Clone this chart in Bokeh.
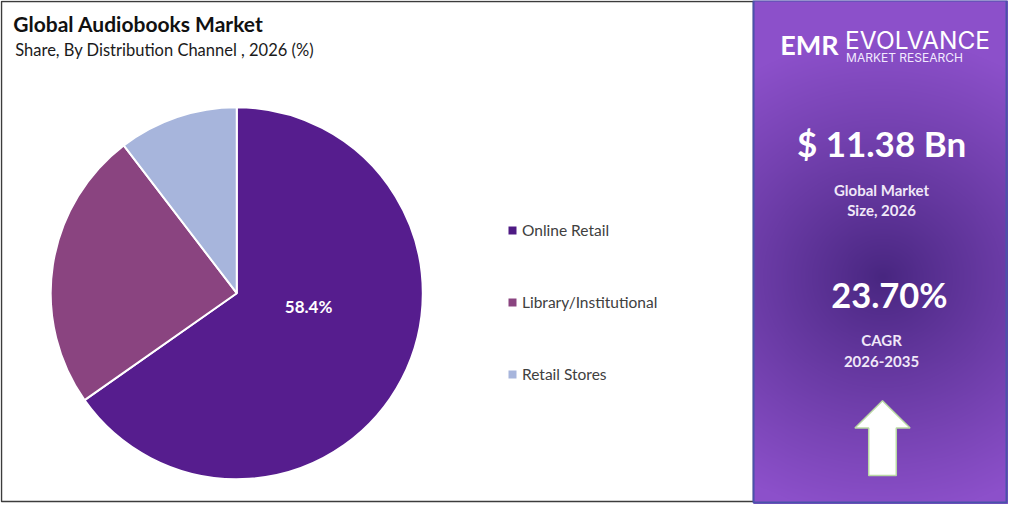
import numpy as np
from bokeh.plotting import figure
from bokeh.models import Range1d, ColumnDataSource, Legend, LegendItem
from bokeh.core.properties import value
from bokeh.embed import file_html
from bokeh.resources import INLINE

# ---- data ----
categories = ["Online Retail", "Library/Institutional", "Retail Stores"]
shares = [58.4, 21.8, 9.3]
colors = ["#561d8e", "#8a4480", "#a7b5dc"]
legend_colors = ["#4e1a84", "#8a4480", "#a7b5dc"]
title = "Global  Audiobooks Market"
subtitle = "Share, By Distribution Channel  , 2026 (%)"
market_size = "$ 11.38 Bn"
market_label = ["Global Market", "Size, 2026"]
cagr = "23.70%"
cagr_label = ["CAGR", "2026-2035"]

W, H = 1024, 520
def Y(y):
    return H - y

p = figure(width=1008, height=504, x_range=Range1d(0, W), y_range=Range1d(0, H),
           output_backend="svg", toolbar_location=None, min_border=0,
           background_fill_color="white", border_fill_color="white")
p.axis.visible = False
p.grid.visible = False
p.outline_line_color = None

FONT = "Lato"

# left panel border
p.quad(left=1, right=765, bottom=Y(517), top=Y(1), fill_color="white",
       line_color="#3c3c3c", line_width=1.5)

# right panel gradient
pw, ph = 259, 520
xs = np.arange(pw) + 765
gx, gy = np.meshgrid(xs, np.arange(ph))
t = np.sqrt(((gx - 895) / 260.0) ** 2 + ((gy - 285) / 245.0) ** 2)
t = np.clip(t, 0, 1) ** 0.9
dark = np.array([72, 38, 128], dtype=float)
light = np.array([140, 80, 202], dtype=float)
rgb = dark[None, None, :] + (light - dark)[None, None, :] * t[:, :, None]
img = np.zeros((ph, pw), dtype=np.uint32)
view = img.view(dtype=np.uint8).reshape((ph, pw, 4))
view[:, :, 0] = rgb[:, :, 0].astype(np.uint8)
view[:, :, 1] = rgb[:, :, 1].astype(np.uint8)
view[:, :, 2] = rgb[:, :, 2].astype(np.uint8)
view[:, :, 3] = 255
img = img[::-1]  # flip so that row 0 is bottom
p.image_rgba(image=[img], x=765, y=0, dw=pw, dh=ph)
p.quad(left=765, right=1022, bottom=Y(518), top=Y(0), fill_color=None,
       line_color="#4a52aa", line_width=2)

# title
p.text(x=[13], y=[Y(24)], text=[title], text_font=value(FONT), text_font_style="bold",
       text_font_size="21px", text_color="#111111", text_baseline="middle")
p.text(x=[15], y=[Y(51)], text=[subtitle], text_font=value(FONT),
       text_font_size="16.5px", text_color="#1a1a1a", text_baseline="middle")

# pie
vals = np.array(shares)
frac = vals / vals.sum()
cum = np.concatenate([[0], np.cumsum(frac)])
start = np.pi / 2 - cum[1:] * 2 * np.pi
end = np.pi / 2 - cum[:-1] * 2 * np.pi
src = ColumnDataSource(dict(cat=categories, start=start, end=end, color=colors))
p.wedge(x=240, y=Y(302), radius=189, start_angle="start", end_angle="end",
        fill_color="color", line_color="white", line_width=2, source=src)

# legend (square swatches)
lsrc = ColumnDataSource(dict(l=[-50] * 3, r=[-40] * 3, b=[-50] * 3, t=[-40] * 3,
                             c=legend_colors))
lr = p.quad(left="l", right="r", bottom="b", top="t", fill_color="c",
            line_color=None, source=lsrc)
items = [LegendItem(label=c, renderers=[lr], index=i) for i, c in enumerate(categories)]
leg = Legend(items=items, location=(507, 121), orientation="vertical",
             spacing=54, padding=0, margin=0, glyph_width=10, glyph_height=10,
             label_standoff=5, label_text_font=FONT, label_text_font_size="15.5px",
             label_text_color="#404040", border_line_color=None,
             background_fill_alpha=0)
p.add_layout(leg)

# data label
p.text(x=[313], y=[Y(316)], text=[f"{shares[0]}%"], text_font=value(FONT),
       text_font_style="bold", text_font_size="17px", text_color="white",
       text_align="center", text_baseline="middle")

# logo
p.text(x=[792], y=[Y(45)], text=["EMR"], text_font=value(FONT), text_font_style="bold",
       text_font_size="27px", text_color="white", text_baseline="middle")
p.text(x=[858], y=[Y(41)], text=["EVOLVANCE"], text_font=value("Inter"),
       text_font_size="24.5px", text_color="white", text_baseline="middle")
p.text(x=[859], y=[Y(59)], text=["MARKET RESEARCH"], text_font=value("Inter"),
       text_font_size="12px", text_color="#f2eaff", text_baseline="middle")

# KPI texts
p.text(x=[895], y=[Y(147)], text=[market_size], text_font=value(FONT), text_font_style="bold",
       text_font_size="35px", text_color="white", text_align="center", text_baseline="middle")
p.text(x=[895, 895], y=[Y(195), Y(216)], text=market_label, text_font=value(FONT),
       text_font_style="bold", text_font_size="15px", text_color="#f0e8f8",
       text_align="center", text_baseline="middle")
p.text(x=[903], y=[Y(303)], text=[cagr], text_font=value(FONT), text_font_style="bold",
       text_font_size="34.5px", text_color="white", text_align="center", text_baseline="middle")
p.text(x=[895, 895], y=[Y(350), Y(372)], text=cagr_label, text_font=value(FONT),
       text_font_style="bold", text_font_size="15px", text_color="#f0e8f8",
       text_align="center", text_baseline="middle")

# arrow
ax = [896, 924, 910, 910, 882, 882, 868]
ay = [Y(413), Y(441), Y(441), Y(490), Y(490), Y(441), Y(441)]
p.patch(ax, ay, fill_color="white", line_color="#b9d8a4", line_width=1.5)

open("out.html", "w").write(file_html(p, INLINE))
